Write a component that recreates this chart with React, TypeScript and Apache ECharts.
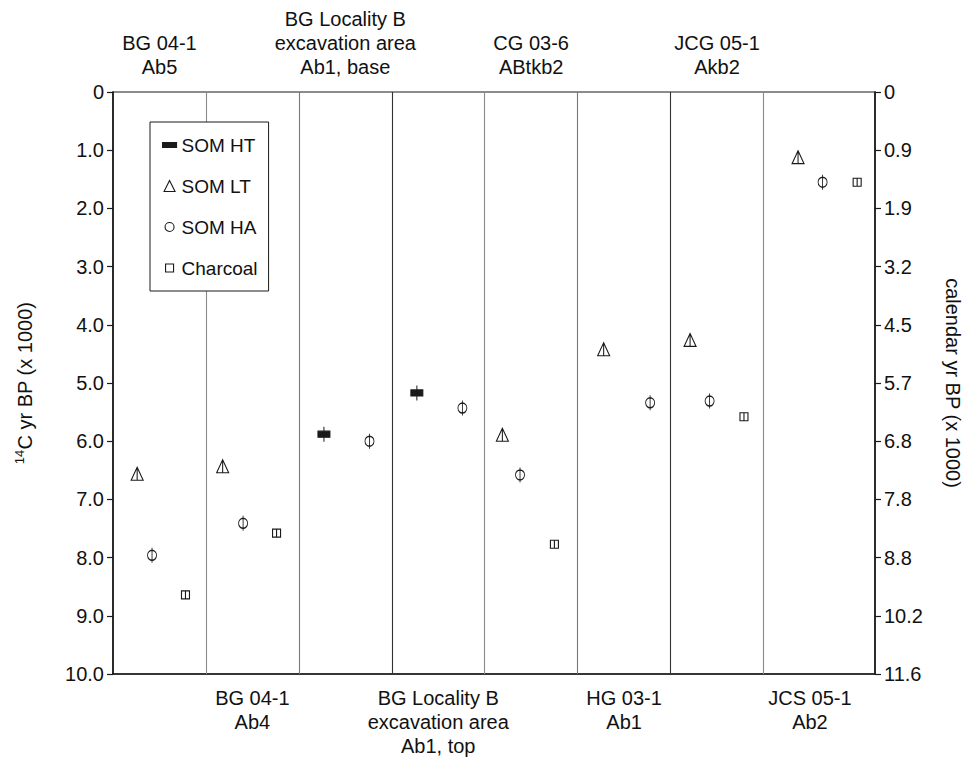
import React, { useEffect, useRef } from "react";
import * as echarts from "echarts";

// ---- data ----
const columnNames = [
  "BG 04-1\nAb5",
  "BG 04-1\nAb4",
  "BG Locality B\nexcavation area\nAb1, base",
  "BG Locality B\nexcavation area\nAb1, top",
  "CG 03-6\nABtkb2",
  "HG 03-1\nAb1",
  "JCG 05-1\nAkb2",
  "JCS 05-1\nAb2",
];
// column boundaries on the x scale (last column is wider)
const columnEdges = [0, 1, 2, 3, 4, 5, 6, 7, 8.2];

// 14C ages (x 1000 yr BP) per column, null = no sample
const somHT = [null, null, 5.88, 5.17, null, null, null, null];
const somLT = [6.56, 6.43, null, null, 5.89, 4.42, 4.26, 1.12];
const somHA = [7.96, 7.41, 6.0, 5.43, 6.58, 5.34, 5.31, 1.55];
const charcoal = [8.64, 7.58, null, null, 7.77, null, 5.58, 1.55];

// horizontal placement inside each column (fraction of column width)
const somHTPos = [0, 0, 0.27, 0.27, 0, 0, 0, 0];
const somLTPos = [0.26, 0.18, 0, 0, 0.19, 0.28, 0.21, 0.31];
const somHAPos = [0.42, 0.4, 0.76, 0.76, 0.38, 0.78, 0.42, 0.53];
const charcoalPos = [0.78, 0.76, 0, 0, 0.75, 0, 0.79, 0.84];

const leftTickLabels = ["0", "1.0", "2.0", "3.0", "4.0", "5.0", "6.0", "7.0", "8.0", "9.0", "10.0"];
const calTickLabels = ["0", "0.9", "1.9", "3.2", "4.5", "5.7", "6.8", "7.8", "8.8", "10.2", "11.6"];

const legendNames = ["SOM HT", "SOM LT", "SOM HA", "Charcoal"];

// ---- helpers ----
function build(values: (number | null)[], pos: number[]) {
  const out: number[][] = [];
  values.forEach((v, i) => {
    if (v == null) return;
    const w = columnEdges[i + 1] - columnEdges[i];
    out.push([columnEdges[i] + pos[i] * w, v]);
  });
  return out;
}

const FONT = "Liberation Sans";
const INK = "#1a1a1a";

const SYM_HT = "path://M0,4.5 L12,4.5 L12,10.5 L0,10.5 Z M6,0 L6,15";
const SYM_LT = "path://M6,0 L12,13 L0,13 Z M6,0 L6,13";
const SYM_HA = "path://M4.5,0 L4.5,15 M0,7.5 A4.5,5 0 1 1 9,7.5 A4.5,5 0 1 1 0,7.5 Z";
const SYM_CH = "path://M0,0 L8,0 L8,8 L0,8 Z M4,0 L4,8";

const ICON_HT = "path://M0,0 M14,13 M0,4 L14,4 L14,9 L0,9 Z";
const ICON_LT = "path://M0,0 M14,13 M7,1 L12.5,12 L1.5,12 Z";
const ICON_HA = "path://M0,0 M14,13 M2.5,6.5 A4.5,4.5 0 1 1 11.5,6.5 A4.5,4.5 0 1 1 2.5,6.5 Z";
const ICON_CH = "path://M0,0 M14,13 M3,2.5 L11,2.5 L11,10.5 L3,10.5 Z";

const sepColors = ["#8a8a8a", "#777", "#333", "#8a8a8a", "#777", "#333", "#8a8a8a"];

export default function App() {
  const ref = useRef<HTMLDivElement>(null);
  useEffect(() => {
    if (!ref.current) return;
    const chart = echarts.init(ref.current, undefined, { renderer: "svg" });

    const openStyle = { color: "#ffffff", borderColor: INK, borderWidth: 1.1, opacity: 1 };
    const filledStyle = { color: INK, borderColor: INK, borderWidth: 1.1, opacity: 1 };

    const topData: any[] = [];
    const bottomData: any[] = [];
    columnNames.forEach((n, i) => {
      const c = columnEdges[i] + 0.5;
      if (i % 2 === 0) topData.push({ value: [c, 0], name: n });
      else bottomData.push({ value: [c, 10], name: n });
    });

    const separators = columnEdges.slice(1, -1).map((x, i) => ({
      xAxis: x,
      lineStyle: { color: sepColors[i % sepColors.length], width: 1.1, type: "solid", opacity: 1 },
    }));

    const labelStyle = {
      show: true,
      formatter: "{b}",
      fontFamily: FONT,
      fontSize: 20,
      lineHeight: 24,
      color: "#111",
      align: "center",
    };

    chart.setOption({
      animation: false,
      backgroundColor: "#ffffff",
      textStyle: { fontFamily: FONT },
      grid: {
        left: 113,
        top: 92,
        right: 92,
        bottom: 90,
        show: true,
        borderColor: INK,
        borderWidth: 1.2,
        backgroundColor: "transparent",
      },
      legend: {
        orient: "vertical",
        left: 150,
        top: 122,
        padding: [13, 11, 13, 12],
        itemGap: 21,
        itemWidth: 14,
        itemHeight: 13,
        borderColor: INK,
        borderWidth: 1,
        backgroundColor: "#fff",
        textStyle: { fontFamily: FONT, fontSize: 19, color: "#111", lineHeight: 20 },
        data: [
          { name: legendNames[0], icon: ICON_HT, itemStyle: filledStyle },
          { name: legendNames[1], icon: ICON_LT, itemStyle: openStyle },
          { name: legendNames[2], icon: ICON_HA, itemStyle: openStyle },
          { name: legendNames[3], icon: ICON_CH, itemStyle: openStyle },
        ],
      },
      xAxis: {
        type: "value",
        min: columnEdges[0],
        max: columnEdges[columnEdges.length - 1],
        axisLine: { show: true, onZero: false, lineStyle: { color: INK, width: 1.6 } },
        axisTick: { show: false },
        axisLabel: { show: false },
        splitLine: { show: false },
      },
      yAxis: [
        {
          type: "value",
          inverse: true,
          min: 0,
          max: 10,
          interval: 1,
          position: "left",
          axisLine: { show: true, lineStyle: { color: INK, width: 1.6 } },
          axisTick: { show: true, inside: false, length: 6, lineStyle: { color: INK, width: 1.2 } },
          axisLabel: {
            margin: 9,
            fontFamily: FONT,
            fontSize: 20,
            color: "#111",
            formatter: (v: number) => leftTickLabels[Math.round(v)],
          },
          splitLine: { show: false },
          name: "{sup|14}C yr BP (x 1000)",
          nameLocation: "middle",
          nameGap: 76,
          nameRotate: 90,
          nameTextStyle: {
            fontFamily: FONT,
            fontSize: 20,
            color: "#111",
            lineHeight: 24,
            rich: { sup: { fontFamily: FONT, fontSize: 13, lineHeight: 12, verticalAlign: "top", color: "#111" } },
          },
        },
        {
          type: "value",
          inverse: true,
          min: 0,
          max: 10,
          interval: 1,
          position: "right",
          axisLine: { show: true, lineStyle: { color: INK, width: 1.6 } },
          axisTick: { show: true, inside: false, length: 6, lineStyle: { color: INK, width: 1.2 } },
          axisLabel: {
            margin: 9,
            fontFamily: FONT,
            fontSize: 20,
            color: "#111",
            formatter: (v: number) => calTickLabels[Math.round(v)],
          },
          splitLine: { show: false },
          name: "calendar yr BP (x 1000)",
          nameLocation: "middle",
          nameGap: 68,
          nameRotate: -90,
          nameTextStyle: { fontFamily: FONT, fontSize: 20, color: "#111" },
        },
      ],
      series: [
        {
          name: legendNames[0],
          type: "scatter",
          symbol: SYM_HT,
          symbolSize: [12, 15],
          itemStyle: filledStyle,
          data: build(somHT, somHTPos),
          z: 5,
          markLine: {
            silent: true,
            symbol: ["none", "none"],
            label: { show: false },
            data: separators,
            z: 1,
          },
        },
        {
          name: legendNames[1],
          type: "scatter",
          symbol: SYM_LT,
          symbolSize: [12, 13],
          itemStyle: openStyle,
          data: build(somLT, somLTPos),
          z: 5,
        },
        {
          name: legendNames[2],
          type: "scatter",
          symbol: SYM_HA,
          symbolSize: [9, 15],
          itemStyle: openStyle,
          data: build(somHA, somHAPos),
          z: 5,
        },
        {
          name: legendNames[3],
          type: "scatter",
          symbol: SYM_CH,
          symbolSize: [8, 8],
          itemStyle: openStyle,
          data: build(charcoal, charcoalPos),
          z: 5,
        },
        {
          name: "top labels",
          type: "scatter",
          symbolSize: 0,
          silent: true,
          itemStyle: { opacity: 1 },
          data: topData,
          label: { ...labelStyle, position: "top", distance: 13 },
        },
        {
          name: "bottom labels",
          type: "scatter",
          symbolSize: 0,
          silent: true,
          itemStyle: { opacity: 1 },
          data: bottomData,
          label: { ...labelStyle, position: "bottom", distance: 12 },
        },
      ],
    });
    return () => chart.dispose();
  }, []);
  return (
    <div
      ref={ref}
      style={{ position: "fixed", left: 0, top: 0, width: 971, height: 764, background: "#fff" }}
    />
  );
}
